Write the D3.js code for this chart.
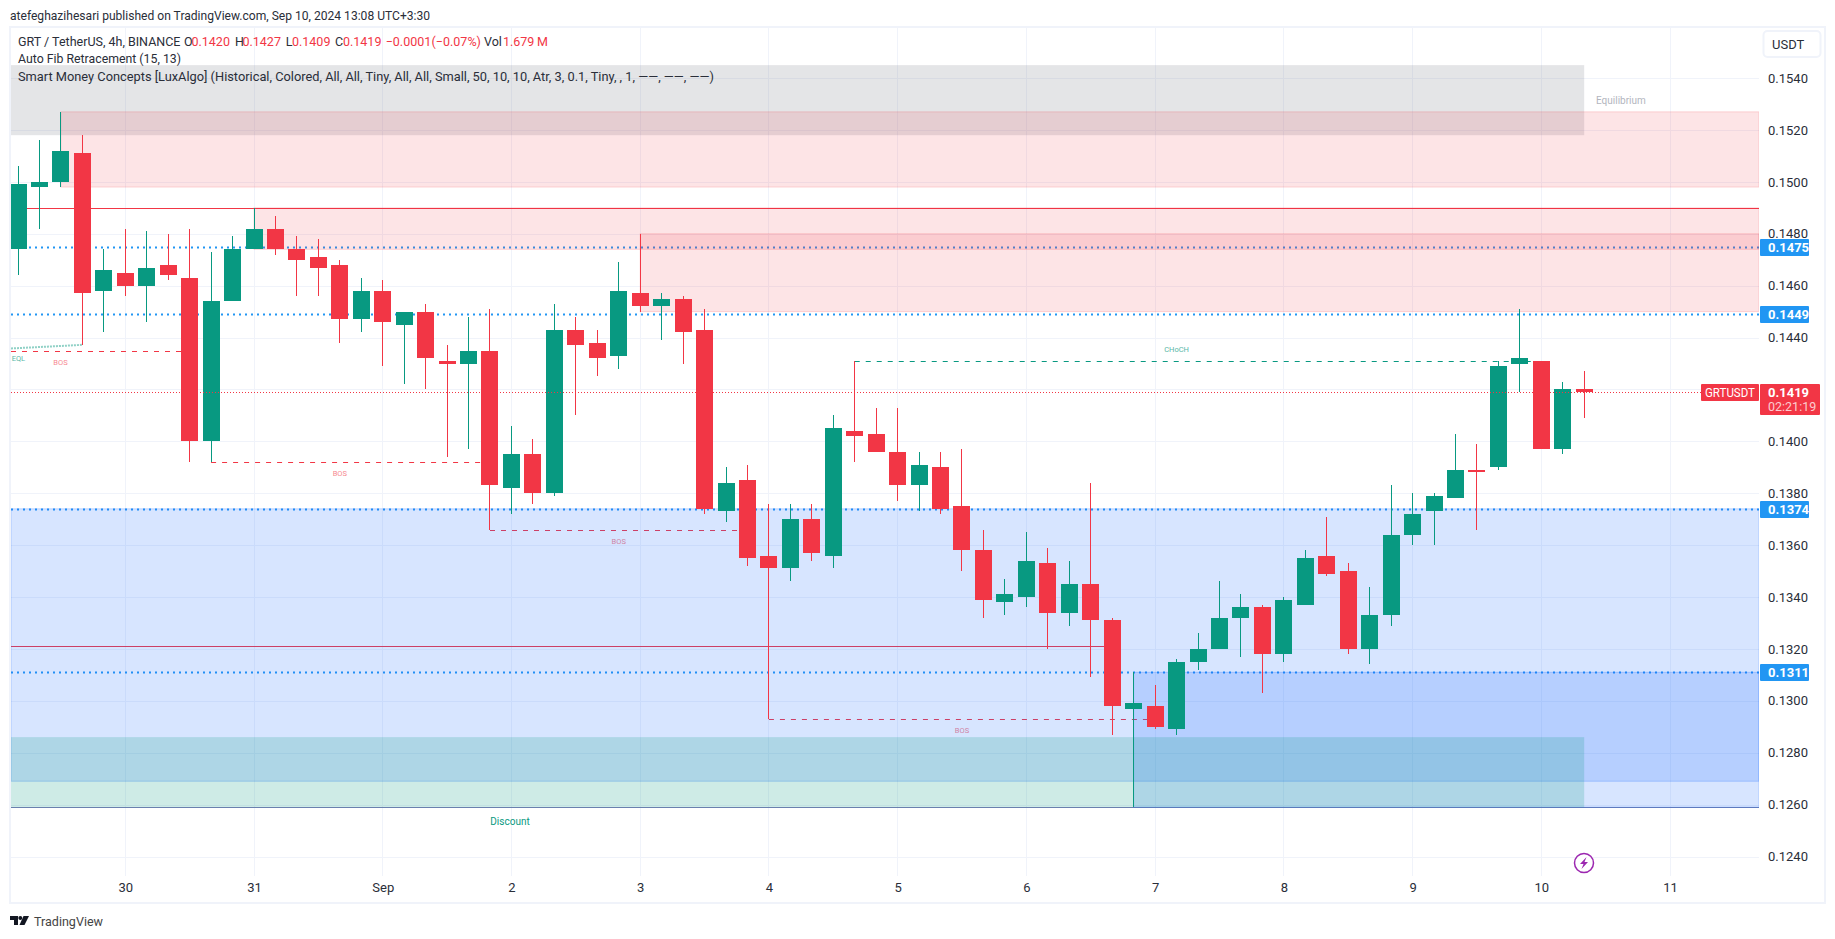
<!DOCTYPE html>
<html>
<head>
<meta charset="utf-8">
<script src="https://cdn.jsdelivr.net/npm/d3@7"></script>
<style>
    html,body {margin:0;padding:0;background:#fff;}
    svg {display:block;}
    text {font-family:"Roboto",sans-serif;}
    .axis text {font-size:13px;fill:#2a2e39;}
    .axis .domain {display:none;}
    .head {font-size:13px;fill:#2a2e39;}
    .tiny {font-size:7.5px;}
</style>
</head>
<body>
<svg id="graph"></svg>
<script>
// one candle every 4h, first one is Aug 29 04:00
var opens  = [.1474,.1498,.1500,.1511,.1458,.1465,.1460,.1468,.1463,.1400,.1454,.1474,.1482,.1474,.1471,.1468,.1447,.1458,.1445,.1450,
              .1431,.1430,.1435,.1382,.1395,.1380,.1443,.1438,.1433,.1457,.1452,.1455,.1443,.1373,.1385,.1356,.1351,.1370,.1356,.1404,
              .1403,.1396,.1383,.1390,.1375,.1358,.1338,.1340,.1353,.1334,.1345,.1331,.1297,.1298,.1289,.1315,.1320,.1332,.1336,.1318,
              .1337,.1356,.1350,.1320,.1333,.1364,.1373,.1378,.1389,.1390,.1430,.1431,.1397,.1420];
var highs  = [.1506,.1516,.1527,.1518,.1474,.1482,.1481,.1480,.1482,.1473,.1479,.1490,.1487,.1479,.1478,.1470,.1463,.1462,.1450,.1453,
              .1437,.1448,.1451,.1406,.1401,.1453,.1448,.1443,.1469,.1480,.1457,.1456,.1451,.1390,.1391,.1376,.1376,.1376,.1410,.1431,
              .1413,.1413,.1396,.1396,.1397,.1366,.1347,.1365,.1359,.1354,.1384,.1332,.1311,.1306,.1316,.1326,.1346,.1341,.1337,.1340,
              .1358,.1371,.1353,.1344,.1383,.1380,.1380,.1403,.1399,.1431,.1451,.1431,.1423,.1427];
var lows   = [.1464,.1482,.1498,.1437,.1442,.1456,.1446,.1462,.1392,.1392,.1454,.1474,.1472,.1456,.1456,.1438,.1442,.1429,.1422,.1420,
              .1394,.1397,.1366,.1372,.1376,.1379,.1410,.1425,.1428,.1450,.1439,.1430,.1372,.1369,.1352,.1293,.1346,.1354,.1351,.1392,
              .1396,.1377,.1373,.1372,.1350,.1332,.1333,.1336,.1320,.1329,.1309,.1287,.1259,.1289,.1287,.1312,.1320,.1317,.1303,.1315,
              .1337,.1348,.1318,.1314,.1329,.1360,.1360,.1378,.1366,.1389,.1419,.1397,.1395,.1409];
var closes = [.1499,.1500,.1512,.1457,.1466,.1460,.1467,.1464,.1400,.1454,.1474,.1482,.1474,.1470,.1467,.1447,.1458,.1446,.1450,.1432,
              .1430,.1435,.1383,.1395,.1380,.1443,.1437,.1432,.1458,.1452,.1455,.1442,.1374,.1384,.1355,.1351,.1370,.1357,.1405,.1402,
              .1396,.1383,.1391,.1374,.1358,.1339,.1341,.1354,.1334,.1345,.1331,.1298,.1299,.1290,.1315,.1320,.1332,.1336,.1318,.1339,
              .1355,.1349,.1320,.1333,.1364,.1372,.1379,.1389,.1388,.1429,.1432,.1397,.1420,.1419];

var priceTicks = [.154,.152,.150,.148,.146,.144,.142,.140,.138,.136,.134,.132,.130,.128,.126,.124];
var dayIndex  = [5,11,17,23,29,35,41,47,53,59,65,71,77];
var dayLabels = ["30","31","Sep","2","3","4","5","6","7","8","9","10","11"];

// [candle the box starts at, candle it stops at (null = right edge), top, bottom]
var redZones   = [[2,null,.1527,.1498],[11,null,.1490,.1474],[29,null,.1480,.1450]];
var blueZones  = [[-1,null,.1374,.1269],[52,null,.1311,.1259]];
var greyZones  = [[-1,73,.1545,.1518]];
var greenZones = [[-1,73,.1286,.1259]];

var fibLevels = [.1475,.1449,.1374,.1311];
var lastPrice = .1419;
var rangeLow = .1259;

// [from candle, to candle, price, label, label candle]
var bosLines = [[-1,8,.1435,"BOS",1.98],[9,22,.1392,"BOS",15],[22,34,.1366,"BOS",28],[35,53,.1293,"BOS",44]];
var chochLine = [39,71,.1431,"CHoCH",54];
var solidLines = [[0,null,.1490],[-1,51,.1321]];

// legend line one: [text, x, is value]
var legendParts = [["GRT / TetherUS, 4h, BINANCE",18,0],["O",184,0],["0.1420",191.5,1],["H",235,0],["0.1427",242.5,1],["L",285.7,0],["0.1409",292,1],
                   ["C",335,0],["0.1419",343,1],["\u22120.0001",385.7,1],["(\u22120.07%)",431.6,1],["Vol",484,0],["1.679\u2009M",503,1]];

var screen = {width:1835,height:939};
var plot = {left:11,right:1759,top:28,bottom:876};
var red = "#f23645";
var green = "#089981";
var blue = "#2196f3";

var svg = d3.select("#graph")
    .attr("width",screen.width)
    .attr("height",screen.height);

var xScale = d3.scaleLinear().domain([0,77]).range([18,1670]);
var yScale = d3.scaleLinear().domain([.154,.124]).range([78.1,856.5]);

var candles = opens.map(function(o,i)
{
    return {i:i,open:o,high:highs[i],low:lows[i],close:closes[i]};
});

var xAt = function(i)
{
    if(i===null){return plot.right;}
    if(i<0){return plot.left;}
    return xScale(i);
};

var drawGrid = function(g)
{
    g.selectAll(".hgrid")
        .data(priceTicks)
        .enter()
        .append("line")
        .attr("x1",plot.left)
        .attr("x2",plot.right)
        .attr("y1",function(d){return Math.round(yScale(d))+0.5;})
        .attr("y2",function(d){return Math.round(yScale(d))+0.5;})
        .attr("stroke","#f0f3fa");

    g.selectAll(".vgrid")
        .data(dayIndex)
        .enter()
        .append("line")
        .attr("x1",function(d){return Math.floor(xScale(d))+0.5;})
        .attr("x2",function(d){return Math.floor(xScale(d))+0.5;})
        .attr("y1",plot.top)
        .attr("y2",plot.bottom)
        .attr("stroke","#f0f3fa");
};

var drawStructure = function(g)
{
    // everything here sits under the zones so it comes out muted
    g.selectAll(".fib")
        .data(fibLevels)
        .enter()
        .append("line")
        .attr("x1",plot.left)
        .attr("x2",plot.right)
        .attr("y1",function(d){return Math.round(yScale(d))+0.5;})
        .attr("y2",function(d){return Math.round(yScale(d))+0.5;})
        .attr("stroke",blue)
        .attr("stroke-width",2)
        .attr("stroke-dasharray","2,4");

    g.selectAll(".solid")
        .data(solidLines)
        .enter()
        .append("line")
        .attr("x1",function(d){return xAt(d[0]);})
        .attr("x2",function(d){return xAt(d[1]);})
        .attr("y1",function(d){return Math.round(yScale(d[2]))+0.5;})
        .attr("y2",function(d){return Math.round(yScale(d[2]))+0.5;})
        .attr("stroke",red);

    g.append("line")
        .attr("x1",plot.left)
        .attr("x2",plot.right)
        .attr("y1",Math.round(yScale(rangeLow))+0.5)
        .attr("y2",Math.round(yScale(rangeLow))+0.5)
        .attr("stroke","#6f7fb0");

    g.selectAll(".bos")
        .data(bosLines)
        .enter()
        .append("line")
        .attr("x1",function(d){return xAt(d[0]);})
        .attr("x2",function(d){return xAt(d[1]);})
        .attr("y1",function(d){return Math.round(yScale(d[2]))+0.5;})
        .attr("y2",function(d){return Math.round(yScale(d[2]))+0.5;})
        .attr("stroke",red)
        .attr("stroke-dasharray","5,6");

    g.selectAll(".bosLabel")
        .data(bosLines)
        .enter()
        .append("text")
        .classed("tiny",true)
        .text(function(d){return d[3];})
        .attr("text-anchor","middle")
        .attr("x",function(d){return xScale(d[4]);})
        .attr("y",function(d){return yScale(d[2])+14;})
        .attr("fill",red)
        .attr("opacity",0.6);

    g.append("line")
        .attr("x1",xAt(chochLine[0]))
        .attr("x2",xAt(chochLine[1]))
        .attr("y1",Math.round(yScale(chochLine[2]))+0.5)
        .attr("y2",Math.round(yScale(chochLine[2]))+0.5)
        .attr("stroke",green)
        .attr("stroke-dasharray","5,6");

    g.append("text")
        .classed("tiny",true)
        .text(chochLine[3])
        .attr("text-anchor","middle")
        .attr("x",xScale(chochLine[4]))
        .attr("y",yScale(chochLine[2])-9)
        .attr("fill",green)
        .attr("opacity",0.7);

    // equal lows
    g.append("line")
        .attr("x1",plot.left)
        .attr("x2",xScale(3))
        .attr("y1",yScale(.1436)+0.5)
        .attr("y2",yScale(.1437)-0.5)
        .attr("stroke",green)
        .attr("stroke-width",2)
        .attr("stroke-opacity",0.45)
        .attr("stroke-dasharray","2,1");

    g.append("text")
        .classed("tiny",true)
        .text("EQL")
        .attr("x",11.7)
        .attr("y",360.5)
        .attr("fill",green)
        .attr("opacity",0.7);
};

var drawZones = function(g,zones,fill,line)
{
    g.selectAll(null)
        .data(zones)
        .enter()
        .append("rect")
        .attr("x",function(d){return xAt(d[0]);})
        .attr("width",function(d){return xAt(d[1])-xAt(d[0]);})
        .attr("y",function(d){return yScale(d[2]);})
        .attr("height",function(d){return yScale(d[3])-yScale(d[2]);})
        .attr("fill",fill)
        .attr("stroke",line)
        .attr("stroke-width",line==="none"?0:1);
};

var drawCandles = function(g)
{
    g.selectAll(".wick")
        .data(candles)
        .enter()
        .append("rect")
        .attr("x",function(d){return Math.floor(xScale(d.i));})
        .attr("width",1)
        .attr("y",function(d){return yScale(d.high);})
        .attr("height",function(d){return yScale(d.low)-yScale(d.high);})
        .attr("fill",function(d){return d.close>=d.open?green:red;});

    g.selectAll(".body")
        .data(candles)
        .enter()
        .append("rect")
        .attr("x",function(d){return Math.floor(xScale(d.i))-8;})
        .attr("width",17)
        .attr("y",function(d){return yScale(Math.max(d.open,d.close));})
        .attr("height",function(d){return Math.max(2,yScale(Math.min(d.open,d.close))-yScale(Math.max(d.open,d.close)));})
        .attr("fill",function(d){return d.close>=d.open?green:red;});
};

var drawAxes = function()
{
    var yAxis = d3.axisRight(yScale)
        .tickValues(priceTicks)
        .tickFormat(d3.format(".4f"))
        .tickSize(0)
        .tickPadding(9);

    svg.append("g")
        .classed("axis",true)
        .attr("transform","translate("+plot.right+",0)")
        .call(yAxis);

    var xAxis = d3.axisBottom(xScale)
        .tickValues(dayIndex)
        .tickFormat(function(d,i){return dayLabels[i];})
        .tickSize(0)
        .tickPadding(7);

    svg.append("g")
        .classed("axis",true)
        .attr("transform","translate(0,"+plot.bottom+")")
        .call(xAxis);
};

var priceTag = function(value,fill)
{
    var y = Math.round(yScale(value))
    svg.append("rect")
        .attr("x",1760)
        .attr("y",y-8)
        .attr("width",49)
        .attr("height",17)
        .attr("rx",1)
        .attr("fill",fill);
    svg.append("text")
        .text(d3.format(".4f")(value))
        .attr("x",1768)
        .attr("y",y+5)
        .attr("fill","#fff")
        .style("font-size","13px")
        .style("font-weight","700");
};

var drawTags = function()
{
    fibLevels.forEach(function(v){priceTag(v,blue);});

    var y = Math.round(yScale(lastPrice));
    svg.append("rect")
        .attr("x",1701).attr("y",y-8).attr("width",58).attr("height",17).attr("rx",1)
        .attr("fill",red);
    svg.append("text")
        .text("GRTUSDT")
        .attr("x",1705).attr("y",y+5)
        .attr("textLength",50)
        .attr("lengthAdjust","spacingAndGlyphs")
        .attr("fill","#fff")
        .style("font-size","13px");
    svg.append("rect")
        .attr("x",1760).attr("y",y-8).attr("width",60).attr("height",31).attr("rx",1)
        .attr("fill",red);
    svg.append("text")
        .text(d3.format(".4f")(lastPrice))
        .attr("x",1768).attr("y",y+5)
        .attr("fill","#fff")
        .style("font-size","13px")
        .style("font-weight","700");
    svg.append("text")
        .text("02:21:19")
        .attr("x",1768).attr("y",y+19)
        .attr("fill","#fff")
        .attr("fill-opacity",0.75)
        .style("font-size","12.5px");

    // usdt button
    svg.append("rect")
        .attr("x",1763.5).attr("y",31).attr("width",57).attr("height",26).attr("rx",4)
        .attr("fill","#fff")
        .attr("stroke","#f0f3fa")
        .attr("stroke-width",2);
    svg.append("text")
        .text("USDT")
        .attr("x",1772).attr("y",49)
        .attr("fill","#2a2e39")
        .style("font-size","13px");
};

var drawLegend = function()
{
    svg.append("text")
        .classed("head",true)
        .text("atefeghazihesari published on TradingView.com, Sep 10, 2024 13:08 UTC+3:30")
        .attr("x",10)
        .attr("y",20)
        .attr("textLength",420)
        .attr("lengthAdjust","spacingAndGlyphs");

    svg.selectAll(".legendPart")
        .data(legendParts)
        .enter()
        .append("text")
        .text(function(d){return d[0];})
        .attr("x",function(d){return d[1];})
        .attr("y",46)
        .attr("fill",function(d){return d[2]?red:"#2a2e39";})
        .style("font-size","12.5px");

    svg.append("text")
        .classed("head",true)
        .text("Auto Fib Retracement (15, 13)")
        .attr("x",18)
        .attr("y",63)
        .attr("textLength",163)
        .attr("lengthAdjust","spacingAndGlyphs");

    svg.append("text")
        .classed("head",true)
        .text("Smart Money Concepts [LuxAlgo] (Historical, Colored, All, All, Tiny, All, All, Small, 50, 10, 10, Atr, 3, 0.1, Tiny, , 1, \u2014\u2014, \u2014\u2014, \u2014\u2014)")
        .attr("x",18)
        .attr("y",80.5)
        .attr("textLength",696)
        .attr("lengthAdjust","spacingAndGlyphs");

    svg.append("text")
        .text("Equilibrium")
        .attr("x",1596)
        .attr("y",104)
        .attr("fill","#b2b5be")
        .style("font-size","10px");

    svg.append("text")
        .text("Discount")
        .attr("x",510)
        .attr("y",825)
        .attr("text-anchor","middle")
        .attr("fill",green)
        .style("font-size","10px");
};

var drawExtras = function()
{
    // bolt marker under the last bar
    var cx = Math.floor(xScale(73));
    var bolt = svg.append("g").attr("transform","translate("+cx+",863)");
    bolt.append("circle")
        .attr("r",9.5)
        .attr("fill","#fff")
        .attr("stroke","#9c27b0")
        .attr("stroke-width",1.5);
    bolt.append("path")
        .attr("d","M2.5,-6 L-4,1 L-0.5,1 L-2.5,6 L4,-1 L0.5,-1 Z")
        .attr("fill","#9c27b0");

    // logo
    var logo = svg.append("g").attr("transform","translate(10,916)").attr("fill","#131722");
    logo.append("path").attr("d","M0,0 H8 V9 H4 V4 H0 Z");
    logo.append("circle").attr("cx",10.3).attr("cy",2).attr("r",2);
    logo.append("path").attr("d","M13.5,0 H19 L14.5,9 H9.5 Z");

    svg.append("text")
        .text("TradingView")
        .attr("x",34)
        .attr("y",926)
        .attr("textLength",69)
        .attr("lengthAdjust","spacingAndGlyphs")
        .attr("fill","#444")
        .style("font-size","13.5px");
};

// frame
svg.append("rect")
    .attr("x",10)
    .attr("y",27)
    .attr("width",1825-10)
    .attr("height",903-27)
    .attr("fill","#fff")
    .attr("stroke","#f0f3fa")
    .attr("stroke-width",2);

svg.append("defs").append("clipPath")
    .attr("id","plotClip")
    .append("rect")
    .attr("x",plot.left)
    .attr("y",plot.top)
    .attr("width",plot.right-plot.left)
    .attr("height",plot.bottom-plot.top);

var target = svg.append("g").attr("clip-path","url(#plotClip)");

drawGrid(target.append("g"));
drawStructure(target.append("g"));
drawZones(target.append("g"),greyZones,"rgba(120,123,134,.2)","none");
drawZones(target.append("g"),blueZones,"rgba(33,110,255,.18)","rgba(33,110,255,.25)");
drawZones(target.append("g"),greenZones,"rgba(8,153,129,.2)","none");
drawZones(target.append("g"),redZones,"rgba(242,54,69,.135)","rgba(242,54,69,.18)");
drawCandles(target.append("g").attr("shape-rendering","crispEdges"));

// last price goes over the candles
target.append("line")
    .attr("x1",plot.left)
    .attr("x2",plot.right)
    .attr("y1",Math.round(yScale(lastPrice))+0.5)
    .attr("y2",Math.round(yScale(lastPrice))+0.5)
    .attr("stroke",red)
    .attr("stroke-dasharray","1,2");

drawAxes();
drawTags();
drawLegend();
drawExtras();
</script>
</body>
</html>
